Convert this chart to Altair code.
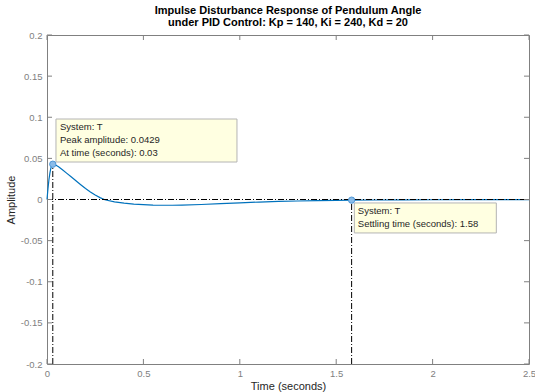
import altair as alt
import pandas as pd

# ---- data ----
t = [0, 0.005, 0.01, 0.015, 0.02, 0.025, 0.03, 0.04, 0.06, 0.08, 0.10, 0.125,
     0.15, 0.175, 0.2, 0.225, 0.25, 0.275, 0.3, 0.35, 0.4, 0.45, 0.5, 0.55,
     0.6, 0.65, 0.7, 0.8, 0.9, 1.0, 1.1, 1.2, 1.3, 1.4, 1.5, 1.58, 1.7, 1.85,
     2.0, 2.2, 2.5]
amp = [0, 0.013, 0.024, 0.032, 0.038, 0.0415, 0.0429, 0.0425, 0.0398, 0.0362,
       0.0324, 0.0276, 0.0227, 0.0180, 0.0133, 0.0092, 0.0054, 0.0023, -0.0003,
       -0.0029, -0.0045, -0.0056, -0.0063, -0.0068, -0.0070, -0.0070, -0.0068,
       -0.0061, -0.0050, -0.0040, -0.0031, -0.0024, -0.0018, -0.0014, -0.0010,
       -0.0008, -0.0006, -0.0004, -0.0003, -0.0002, -0.0001]

x_ticks = [0, 0.5, 1, 1.5, 2, 2.5]
y_ticks = [-0.2, -0.15, -0.1, -0.05, 0, 0.05, 0.1, 0.15, 0.2]

peak_t, peak_amp = 0.03, 0.0429
settle_t, settle_amp = 1.58, -0.0008

title_lines = ["Impulse Disturbance Response of Pendulum Angle",
               "under PID Control: Kp = 140, Ki = 240, Kd = 20"]
tip1_text = "System: T\nPeak amplitude: 0.0429\nAt time (seconds): 0.03"
tip2_text = "System: T\nSettling time (seconds): 1.58"

# ---- layout / style ----
W, H = 482, 329
FONT = "Liberation Sans"
FRAME = "#808080"
xs = alt.Scale(domain=[0, 2.5], nice=False, zero=False)
ys = alt.Scale(domain=[-0.2, 0.2], nice=False, zero=False)

X_AX = alt.Axis(
    values=x_ticks, title="Time (seconds)", ticks=False, domain=False,
    grid=False, labelFlush=False, labelPadding=4, labelColor=FRAME,
    labelFontSize=9.5, labelFont=FONT, titleFont=FONT, titleFontSize=11,
    titleFontWeight="normal", titleColor="#262626", titlePadding=3,
    labelExpr="'' + datum.value")
Y_AX = alt.Axis(
    values=y_ticks, title="Amplitude", ticks=False, domain=False,
    grid=False, labelPadding=5, labelColor=FRAME, labelFontSize=9.5,
    labelFont=FONT, titleFont=FONT, titleFontSize=11,
    titleFontWeight="normal", titleColor="#262626", titlePadding=4,
    labelExpr="'' + datum.value")


def X(field):
    return alt.X(field, scale=xs, axis=X_AX, title="Time (seconds)")


def Y(field):
    return alt.Y(field, scale=ys, axis=Y_AX, title="Amplitude")


curve_df = pd.DataFrame({"t": t, "amp": amp})
curve = alt.Chart(curve_df).mark_line(color="#0072BD", strokeWidth=1.2).encode(
    x=X("t:Q"), y=Y("amp:Q"))

# inward ticks on all four sides
xt_df = pd.DataFrame({"x": x_ticks})
yt_df = pd.DataFrame({"y": y_ticks})
tick_style = dict(color=FRAME, strokeWidth=1)
ticks_bottom = alt.Chart(xt_df).mark_rule(**tick_style).encode(
    x=X("x:Q"), y=alt.value(H), y2=alt.value(H - 5))
ticks_top = alt.Chart(xt_df).mark_rule(**tick_style).encode(
    x=X("x:Q"), y=alt.value(0), y2=alt.value(5))
ticks_left = alt.Chart(yt_df).mark_rule(**tick_style).encode(
    y=Y("y:Q"), x=alt.value(0), x2=alt.value(5))
ticks_right = alt.Chart(yt_df).mark_rule(**tick_style).encode(
    y=Y("y:Q"), x=alt.value(W), x2=alt.value(W - 5))

# characteristic dash-dot lines
dash = [6, 2, 1, 2]
h_df = pd.DataFrame({"x": [x_ticks[0]], "x2": [x_ticks[-1]], "y": [0]})
hline = alt.Chart(h_df).mark_rule(color="black", strokeWidth=1, strokeDash=dash).encode(
    x=X("x:Q"), x2="x2:Q", y=Y("y:Q"))
v_df = pd.DataFrame({"x": [peak_t, settle_t], "y": [y_ticks[0], y_ticks[0]],
                     "y2": [peak_amp, settle_amp]})
vlines = alt.Chart(v_df).mark_rule(color="black", strokeWidth=1, strokeDash=dash).encode(
    x=X("x:Q"), y=Y("y:Q"), y2="y2:Q")

# data tips
p_df = pd.DataFrame({"x": [peak_t], "y": [peak_amp], "label": [tip1_text]})
s_df = pd.DataFrame({"x": [settle_t], "y": [settle_amp], "label": [tip2_text]})

box_style = dict(fill="#ffffe1", stroke="#b4b4b4", strokeWidth=1)
box1 = alt.Chart(p_df).mark_rect(
    xOffset=3.2, x2Offset=184.2, yOffset=-45.2, y2Offset=-2.2, **box_style).encode(
    x=X("x:Q"), x2="x:Q", y=Y("y:Q"), y2="y:Q")
box2 = alt.Chart(s_df).mark_rect(
    xOffset=2.7, x2Offset=144.7, yOffset=2.8, y2Offset=32.8, **box_style).encode(
    x=X("x:Q"), x2="x:Q", y=Y("y:Q"), y2="y:Q")

text_style = dict(align="left", baseline="top", lineBreak="\n", lineHeight=13,
                  fontSize=9.5, font=FONT, color="#262626")
txt1 = alt.Chart(p_df).mark_text(dx=7.2, dy=-42.2, **text_style).encode(
    x=X("x:Q"), y=Y("y:Q"), text="label:N")
txt2 = alt.Chart(s_df).mark_text(dx=6.2, dy=5.8, **text_style).encode(
    x=X("x:Q"), y=Y("y:Q"), text="label:N")

m_df = pd.DataFrame({"x": [peak_t, settle_t], "y": [peak_amp, settle_amp]})
markers = alt.Chart(m_df).mark_point(
    filled=True, size=40, fill="#89bbe8", stroke="#4f97d6", strokeWidth=1,
    opacity=1).encode(x=X("x:Q"), y=Y("y:Q"))

chart = alt.layer(
    curve, hline, vlines, ticks_bottom, ticks_top, ticks_left, ticks_right,
    box1, box2, txt1, txt2, markers
).properties(
    width=W, height=H,
    title=alt.TitleParams(text=title_lines, fontSize=11, font=FONT,
                          fontWeight="bold", color="black", anchor="middle",
                          offset=2, lineHeight=12),
    autosize=alt.AutoSizeParams(type="none"),
    padding={"left": 47, "top": 35, "right": 6, "bottom": 28},
    background="white",
).configure_view(stroke=FRAME, strokeWidth=1)

chart.save("out.html", embed_options={"renderer": "svg", "actions": False})
